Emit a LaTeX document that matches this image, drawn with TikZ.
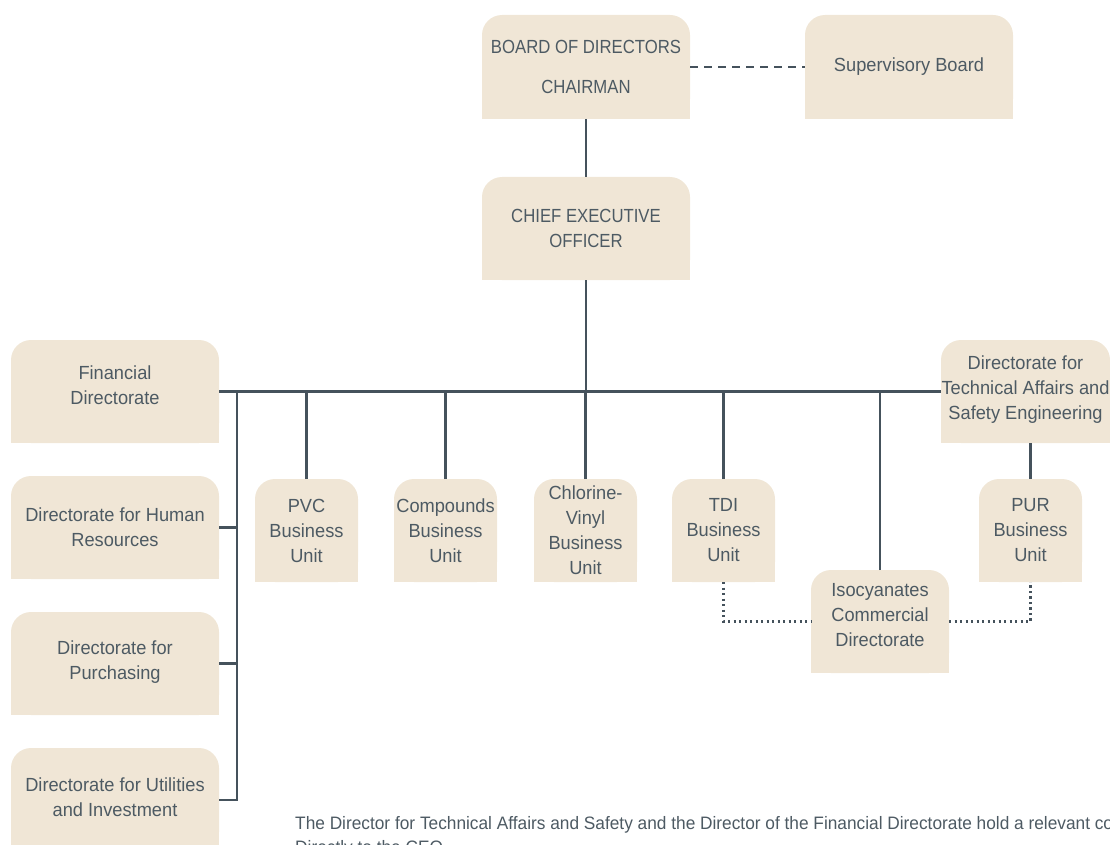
\documentclass[tikz,border=0pt]{standalone}
\usepackage{fontspec}
\setmainfont{Liberation Sans}[FakeStretch=0.96]
\newfontfamily\capsfont{Liberation Sans}[FakeStretch=0.88]
\usetikzlibrary{positioning,backgrounds}

\definecolor{boxfill}{HTML}{F0E6D6}
\definecolor{linecol}{HTML}{45525C}
\definecolor{textcol}{HTML}{4D5A63}

\begin{document}
\begin{tikzpicture}[
  x=1pt, y=-1pt,
  orgbox/.style={fill=boxfill, rounded corners=20pt, align=center, text=textcol,
    font=\fontsize{19}{25}\selectfont, minimum width=208pt, minimum height=103pt,
    inner sep=0pt, outer sep=0pt},
  capsbox/.style={orgbox, font=\capsfont\fontsize{19}{25}\selectfont},
  unitbox/.style={orgbox, minimum width=103pt},
  link/.style={draw=linecol, line width=2.7pt},
  dashlink/.style={link, line width=2.5pt, dash pattern=on 8pt off 6pt},
  dotlink/.style={link, line width=2.3pt, dash pattern=on 2.3pt off 3.2pt}
]
\useasboundingbox (0,0) rectangle (1110,845);

% top of the chart
\node[capsbox, minimum height=104pt] (board) at (586,67) {BOARD OF DIRECTORS\\[15pt]CHAIRMAN};
\node[orgbox, minimum height=104pt, right=115pt of board] (superv) {Supervisory Board};
\node[capsbox, below=58pt of board] (ceo) {CHIEF EXECUTIVE\\OFFICER};

% directorates
\node[orgbox, below left=60pt and 263pt of ceo, text depth=12pt] (fin) {Financial\\Directorate};
\node[orgbox, minimum width=169pt, below right=60pt and 251pt of ceo, text depth=8pt] (tech) {Directorate for\\Technical Affairs and\\Safety Engineering};
\node[orgbox, below=33pt of fin] (hr) {Directorate for Human\\Resources};
\node[orgbox, below=33pt of hr, text depth=6pt] (purch) {Directorate for\\Purchasing};
\node[orgbox, minimum height=104pt, below=33pt of purch, text depth=6pt] (util) {Directorate for Utilities\\and Investment};

% business units
\node[unitbox, below right=36pt and 36pt of fin] (pvc) {PVC\\Business\\Unit};
\node[unitbox, right=36pt of pvc] (comp) {Compounds\\Business\\Unit};
\node[unitbox, right=37pt of comp] (chlor) {Chlorine-\\Vinyl\\Business\\Unit};
\node[unitbox, right=35pt of chlor] (tdi) {TDI\\Business\\Unit};
\node[unitbox, below=36pt of tech, xshift=5pt] (pur) {PUR\\Business\\Unit};
\node[orgbox, minimum width=138pt, below right=-12pt and 36pt of tdi, text depth=14pt] (iso) {Isocyanates\\Commercial\\Directorate};

\node[anchor=base west, align=left, text=textcol, inner sep=0pt,
  font=\fontsize{18}{24}\selectfont] (note) at (295,853)
  {The Director for Technical Affairs and Safety and the Director of the Financial Directorate hold a relevant control position\\Directly to the CEO};

% square off the lower corners
\begin{scope}[on background layer]
  \foreach \n in {board,superv,ceo,fin,tech,hr,purch,util,pvc,comp,chlor,tdi,pur,iso}
    \fill[boxfill] (\n.west) rectangle (\n.south east);
\end{scope}

\coordinate[right=18pt of fin.east] (lbus);

\draw[link] (board) -- (ceo);
\draw[dashlink] (board) -- (superv);
\draw[link] (ceo) -- (ceo |- fin.east);
\draw[link] (fin.east) -- (tech.west);
\draw[link] (lbus) |- (util.east);
\draw[link] (hr.east) -- (hr.east -| lbus);
\draw[link] (purch.east) -- (purch.east -| lbus);
\foreach \u in {pvc,comp,chlor,tdi,iso}
  \draw[link] (\u) -- (\u |- fin.east);
\draw[link] (tech.south -| pur) -- (pur);
\draw[dotlink] (tdi) |- (iso);
\draw[dotlink] (iso) -| (pur);
\end{tikzpicture}
\end{document}
